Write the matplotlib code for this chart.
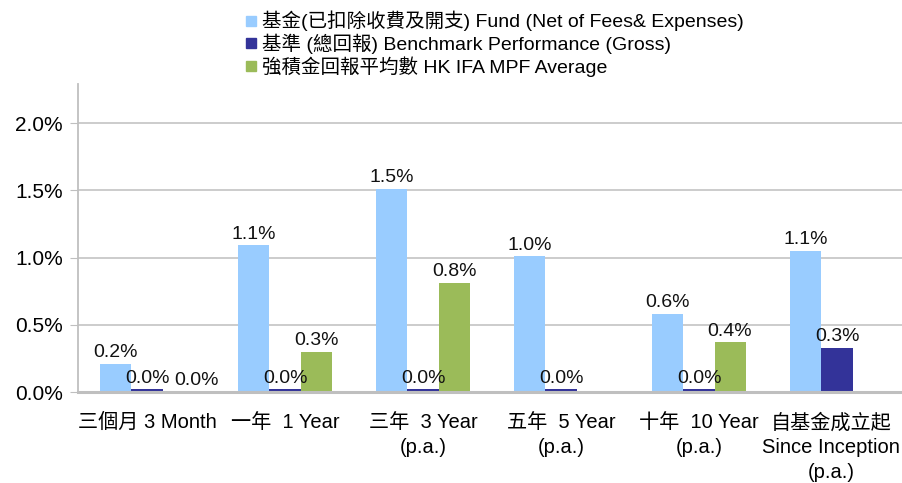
import matplotlib
matplotlib.use("Agg")
import matplotlib.pyplot as plt
import matplotlib.transforms as mtransforms
import numpy as np
from matplotlib.lines import Line2D
from matplotlib.ticker import FuncFormatter, MultipleLocator

plt.rcParams['font.family'] = ['Liberation Sans', 'Noto Sans CJK TC', 'DejaVu Sans']

categories = ["三個月 3 Month", "一年  1 Year", "三年  3 Year\n(p.a.)", "五年  5 Year\n(p.a.)",
              "十年  10 Year\n(p.a.)", "自基金成立起\nSince Inception\n(p.a.)"]
fund = [0.21, 1.09, 1.51, 1.01, 0.58, 1.05]
benchmark = [0.02, 0.02, 0.02, 0.02, 0.02, 0.33]
mpf = [0.0, 0.30, 0.81, np.nan, 0.37, np.nan]
series_names = ["基金(已扣除收費及開支) Fund (Net of Fees& Expenses)",
                "基準 (總回報) Benchmark Performance (Gross)",
                "強積金回報平均數 HK IFA MPF Average"]
colors = ["#99CCFF", "#333399", "#9BBB59"]

fig = plt.figure(figsize=(9.02, 4.83), dpi=100)
ax = fig.add_axes([78/902, 1-392/483, 828/902, (392-84)/483])

x = np.arange(len(categories))
w = 0.225
offsets = [-w, 0, w]
for si, (vals, off, c) in enumerate(zip([fund, benchmark, mpf], offsets, colors)):
    for xi, v in zip(x, vals):
        if np.isnan(v):
            continue
        ax.bar(xi + off, v, width=w, color=c, edgecolor='none', zorder=3)
        dx = 0
        if si == 2 and xi == 0:
            dx = 13  # nudge to avoid overlapping neighbour label
        ax.annotate(f"{v:.1f}%", (xi + off, v), xytext=(dx, 8), textcoords='offset points',
                    ha='center', va='center', fontsize=14, color='#111111', zorder=4)

ax.set_xlim(-0.5, len(categories) - 0.5)
ax.set_ylim(0, 2.29)
ax.yaxis.set_major_locator(MultipleLocator(0.5))
ax.yaxis.set_major_formatter(FuncFormatter(lambda v, p: f"{v:.1f}%"))
ax.set_xticks(x)
ax.set_xticklabels(categories, fontsize=14.5, linespacing=1.38, va='top')
ax.tick_params(axis='x', length=0, pad=15)
ax.tick_params(axis='y', length=6, color='#BFBFBF', labelsize=15, pad=5)
ax.grid(axis='y', color='#C8C8C8', linewidth=1.3, zorder=0)
for s in ['top', 'right']:
    ax.spines[s].set_visible(False)
ax.spines['left'].set_color('#BFBFBF')
ax.spines['left'].set_linewidth(1.3)
ax.spines['bottom'].set_color('#BFBFBF')
ax.spines['bottom'].set_linewidth(2.2)
ax.spines['bottom'].set_zorder(5)

# keep the last category label inside the figure
last = ax.get_xticklabels()[-1]
last.set_transform(last.get_transform() + mtransforms.ScaledTranslation(-6/100, 0, fig.dpi_scale_trans))

handles = [Line2D([], [], marker='s', linestyle='none', markersize=7, color=c) for c in colors]
fig.legend(handles, series_names, loc='upper left', bbox_to_anchor=(236/902, 1.0 - 3/483),
           frameon=False, fontsize=14, handlelength=0.7, handletextpad=0.25,
           labelspacing=0.12, borderaxespad=0)

fig.savefig("out.png", dpi=100)
